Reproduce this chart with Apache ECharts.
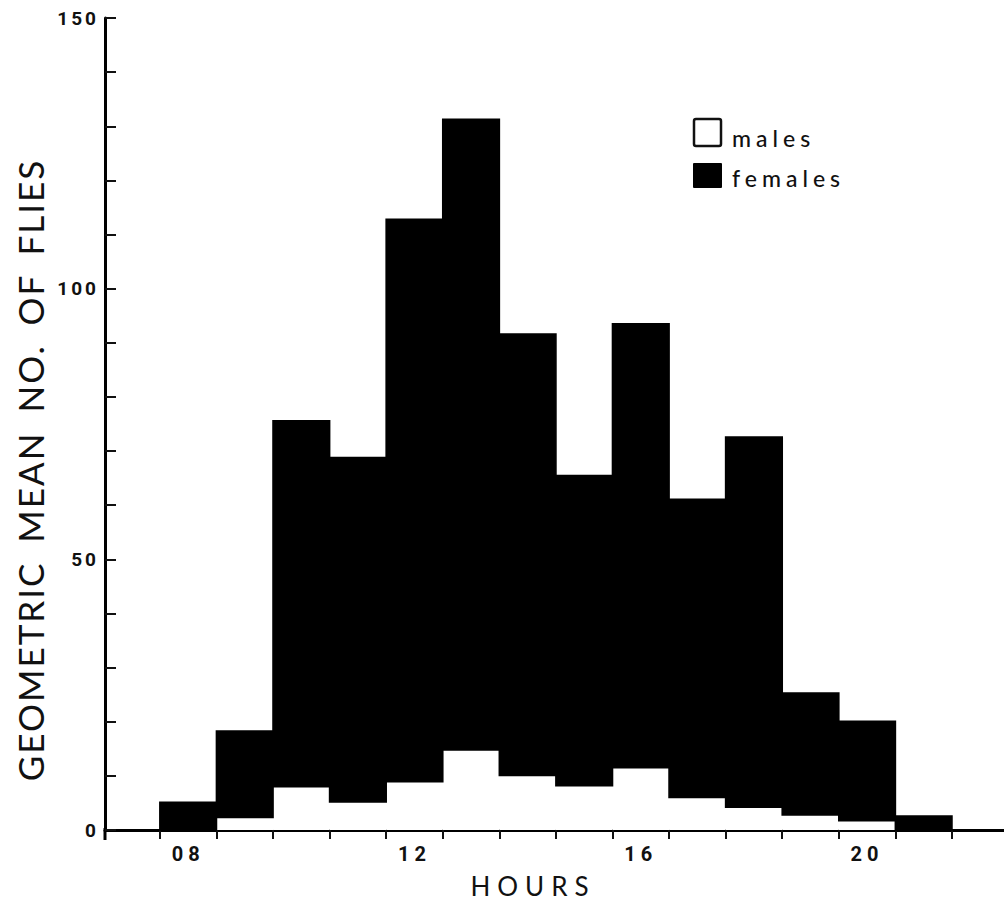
<!DOCTYPE html>
<html>
<head>
<meta charset="utf-8">
<script src="https://cdn.jsdelivr.net/npm/echarts@6/dist/echarts.min.js"></script>
<style>
  html, body { margin: 0; padding: 0; background: #fff; }
  #chart { width: 1004px; height: 907px; }
  /* letter spacing for the lettered captions, picked by font size */
  #chart text[style*="35px"] { letter-spacing: 2px; word-spacing: 8px; }
  #chart text[style*="26px"] { letter-spacing: 7px; }
  #chart text[style*="23px"] { letter-spacing: 5px; }
  #chart text[style*="20px"] { letter-spacing: 5px; }
  #chart text[style*="19px"] { letter-spacing: 3px; }
</style>
</head>
<body>
<div id="chart"></div>
<script>
// Hourly catches: hour of day (bin centre)
const hours = [8, 9, 10, 11, 12, 13, 14, 15, 16, 17, 18, 19, 20, 21];
// Geometric mean number of males per hour
const males = [0, 2.3, 8.0, 5.2, 8.9, 14.8, 10.1, 8.2, 11.5, 6.0, 4.2, 2.8, 1.7, 0];
// Geometric mean number of females per hour (stacked above males)
const females = [5.1, 16.0, 67.6, 63.6, 103.9, 116.5, 81.5, 57.3, 82.0, 55.1, 68.4, 22.5, 18.4, 2.6];
// Labelled hours on the x axis
const xTickValues = [8, 12, 16, 20];
const xTickLabels = ['08', '12', '16', '20'];
// Labelled values on the y axis
const yTickLabels = [0, 50, 100, 150];

const maleData = hours.map((h, i) => [h, 0, males[i]]);
const femaleData = hours.map((h, i) => [h, males[i], males[i] + females[i]]);
const binEdges = hours.map(h => h - 0.5).concat([hours[hours.length - 1] + 0.5]);

function histRect(fill, edge) {
  return function (params, api) {
    const h = api.value(0), lo = api.value(1), hi = api.value(2);
    const a = api.coord([h - 0.5, hi]);
    const b = api.coord([h + 0.5, lo]);
    return {
      type: 'rect',
      shape: { x: a[0], y: a[1], width: b[0] - a[0], height: b[1] - a[1] },
      style: { fill: fill, stroke: edge ? fill : null, lineWidth: edge }
    };
  };
}

const chart = echarts.init(document.getElementById('chart'), null, { renderer: 'svg' });
chart.setOption({
  animation: false,
  backgroundColor: '#fff',
  grid: { left: 105, right: 0, top: 18, bottom: 77 },
  xAxis: {
    type: 'value',
    min: 6.53,
    max: 22.42,
    splitLine: { show: false },
    axisLine: { show: true, onZero: false, lineStyle: { color: '#000', width: 3 } },
    axisTick: { show: true, customValues: binEdges, length: 9, inside: false, lineStyle: { color: '#111', width: 2 } },
    axisLabel: {
      customValues: xTickValues,
      formatter: v => xTickLabels[xTickValues.indexOf(Math.round(v))] || '',
      margin: 14,
      color: '#111',
      fontFamily: 'Roboto',
      fontWeight: 'bold',
      fontSize: 20
    }
  },
  yAxis: {
    type: 'value',
    min: 0,
    max: 150,
    interval: 10,
    splitLine: { show: false },
    axisLine: { show: true, lineStyle: { color: '#000', width: 3 } },
    axisTick: { show: true, inside: true, length: 11, lineStyle: { color: '#111', width: 2 } },
    axisLabel: {
      formatter: v => (yTickLabels.indexOf(v) >= 0 ? String(v) : ''),
      margin: 6,
      color: '#111',
      fontFamily: 'Roboto',
      fontWeight: 'bold',
      fontSize: 19
    }
  },
  series: [
    { name: 'males', type: 'custom', renderItem: histRect('#fff', 0), data: maleData, encode: { x: 0, y: [1, 2] }, z: 2 },
    { name: 'females', type: 'custom', renderItem: histRect('#000', 1.6), data: femaleData, encode: { x: 0, y: [1, 2] }, z: 3 }
  ],
  graphic: [
    {
      type: 'line', shape: { x1: 105, y1: 828, x2: 105, y2: 840 },
      style: { stroke: '#000', lineWidth: 3 }
    },
    {
      type: 'text', x: 30, y: 470, rotation: Math.PI / 2,
      style: { text: 'GEOMETRIC MEAN NO. OF FLIES', font: '35px Lato', fill: '#111', textAlign: 'center', textVerticalAlign: 'middle' }
    },
    {
      type: 'text', x: 533, y: 886,
      style: { text: 'HOURS', font: '26px Lato', fill: '#111', textAlign: 'center', textVerticalAlign: 'middle' }
    },
    {
      type: 'rect', shape: { x: 694, y: 119, width: 27, height: 27, r: 2 },
      style: { fill: '#fff', stroke: '#111', lineWidth: 2.5 }
    },
    {
      type: 'text', x: 732, y: 138,
      style: { text: 'males', font: '500 23px Lato', fill: '#111', textAlign: 'left', textVerticalAlign: 'middle' }
    },
    {
      type: 'rect', shape: { x: 693, y: 163, width: 29, height: 25, r: 1 },
      style: { fill: '#000' }
    },
    {
      type: 'text', x: 732, y: 178,
      style: { text: 'females', font: '500 23px Lato', fill: '#111', textAlign: 'left', textVerticalAlign: 'middle' }
    }
  ]
});
</script>
</body>
</html>
